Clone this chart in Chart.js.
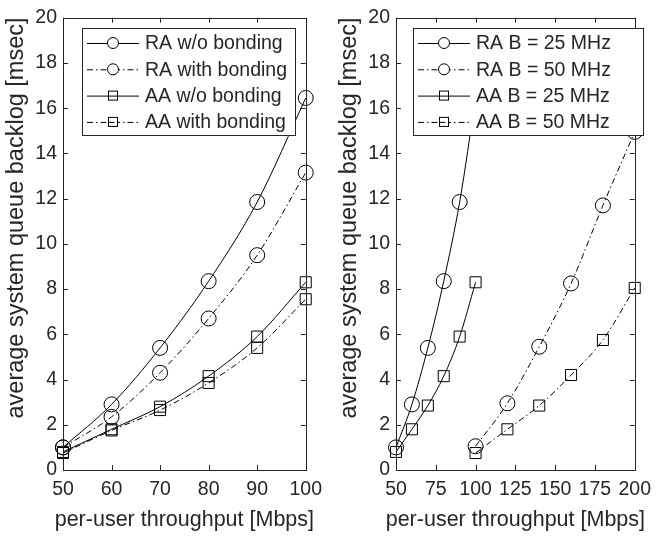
<!DOCTYPE html>
<html>
<head>
<meta charset="utf-8">
<script src="https://cdn.jsdelivr.net/npm/chart.js@4.4.1/dist/chart.umd.min.js"></script>
<style>
  html, body { margin: 0; padding: 0; background: #fff; }
  #wrap { position: relative; width: 659px; height: 538px; }
  canvas { position: absolute; top: 0; }
</style>
</head>
<body>
<div id="wrap">
  <canvas id="left" width="330" height="538" style="left:0"></canvas>
  <canvas id="right" width="329" height="538" style="left:330px"></canvas>
</div>
<script>
// left panel: 50..100 Mbps
const leftX = [50, 60, 70, 80, 90, 100];
const raNoBond = [1.0, 2.9, 5.4, 8.35, 11.85, 16.45];
const raBond = [1.0, 2.35, 4.3, 6.7, 9.5, 13.15];
const aaNoBond = [0.8, 1.8, 2.8, 4.15, 5.9, 8.3];
const aaBond = [0.75, 1.75, 2.65, 3.85, 5.4, 7.55];

// right panel: 25 MHz uses the same throughputs, 50 MHz goes to 200
const x25 = [50, 60, 70, 80, 90, 100];
const ra25 = [1.0, 2.9, 5.4, 8.35, 11.85, 16.45];
const aa25 = [0.8, 1.8, 2.85, 4.15, 5.9, 8.3];
const x50 = [100, 120, 140, 160, 180, 200];
const ra50 = [1.05, 2.95, 5.45, 8.25, 11.7, 14.95];
const aa50 = [0.75, 1.8, 2.85, 4.2, 5.75, 8.05];

const yTicks = [0, 2, 4, 6, 8, 10, 12, 14, 16, 18, 20];
const xTitle = 'per-user throughput [Mbps]';
const yTitle = 'average system queue backlog [msec]';

const INK = '#262626';
const FONT = 'Liberation Sans, Arial, sans-serif';
const DASHDOT = [6, 3, 1.5, 3];

const pts = (xs, ys) => xs.map((x, i) => ({x, y: ys[i]}));

function series(label, xs, ys, shape, dashed) {
  return {
    label,
    data: pts(xs, ys),
    borderColor: '#000',
    borderWidth: 1,
    borderDash: dashed ? DASHDOT : [],
    pointStyle: shape,
    pointRadius: shape === 'circle' ? 7.5 : 7.8,
    pointBorderWidth: 1,
    pointBorderColor: '#000',
    pointBackgroundColor: 'rgba(0,0,0,0)',
    cubicInterpolationMode: 'monotone',
    clip: false
  };
}

// inward ticks on all four sides plus the box
const boxTicks = {
  id: 'boxTicks',
  afterDatasetsDraw(chart) {
    const {ctx, chartArea: a, scales: {x, y}} = chart;
    ctx.save();
    ctx.strokeStyle = INK;
    ctx.lineWidth = 1;
    ctx.setLineDash([]);
    const seg = (x1, y1, x2, y2) => { ctx.beginPath(); ctx.moveTo(x1, y1); ctx.lineTo(x2, y2); ctx.stroke(); };
    x.ticks.forEach(t => {
      const px = Math.round(x.getPixelForValue(t.value)) + 0.5;
      seg(px, a.bottom, px, a.bottom - 5);
      seg(px, a.top, px, a.top + 5);
    });
    y.ticks.forEach(t => {
      const py = Math.round(y.getPixelForValue(t.value)) + 0.5;
      seg(a.left, py, a.left + 5, py);
      seg(a.right, py, a.right - 5, py);
    });
    ctx.strokeRect(Math.round(a.left) + 0.5, Math.round(a.top) + 0.5,
      Math.round(a.right - a.left), Math.round(a.bottom - a.top));
    ctx.restore();
  }
};

// axis titles, drawn by hand so they are not squeezed to the axis width
const axisTitles = {
  id: 'axisTitles',
  afterDraw(chart, args, o) {
    const {ctx, scales: {x}} = chart;
    ctx.save();
    ctx.fillStyle = INK;
    ctx.textAlign = 'center';
    ctx.textBaseline = 'alphabetic';
    ctx.font = '21.5px ' + FONT;
    ctx.fillText(xTitle, (x.left + x.right) / 2, o.xBase);
    ctx.font = '23.5px ' + FONT;
    ctx.translate(o.yBase, o.yMid);
    ctx.rotate(-Math.PI / 2);
    ctx.fillText(yTitle, 0, 0);
    ctx.restore();
  }
};

// matlab style legend box inside the axes
const boxLegend = {
  id: 'boxLegend',
  afterDraw(chart, args, o) {
    const {ctx} = chart;
    ctx.save();
    ctx.fillStyle = '#fff';
    ctx.fillRect(o.left, o.top, o.width, o.height);
    ctx.strokeStyle = INK;
    ctx.lineWidth = 1;
    ctx.strokeRect(o.left + 0.5, o.top + 0.5, o.width, o.height);
    ctx.font = '19.5px ' + FONT;
    ctx.textBaseline = 'middle';
    chart.data.datasets.forEach((ds, i) => {
      const cy = o.top + o.rowTop + i * o.rowStep;
      ctx.strokeStyle = '#000';
      ctx.setLineDash(ds.borderDash);
      ctx.beginPath();
      ctx.moveTo(o.left + 5, cy + 0.5);
      ctx.lineTo(o.left + 5 + o.lineLen, cy + 0.5);
      ctx.stroke();
      ctx.setLineDash([]);
      const mx = o.left + 5 + o.lineLen / 2;
      ctx.fillStyle = '#fff';
      ctx.beginPath();
      if (ds.pointStyle === 'circle') {
        ctx.arc(mx, cy, 5.5, 0, Math.PI * 2);
        ctx.fill();
        ctx.stroke();
      } else {
        ctx.fillRect(mx - 4.5, cy - 4.5, 9, 9);
        ctx.strokeRect(mx - 4.5, cy - 4.5, 9, 9);
        // the line shows through the square in the reference
        ctx.setLineDash(ds.borderDash);
        ctx.beginPath();
        ctx.moveTo(mx - 4.5, cy + 0.5);
        ctx.lineTo(mx + 4.5, cy + 0.5);
        ctx.stroke();
        ctx.setLineDash([]);
      }
      ctx.fillStyle = INK;
      ctx.fillText(ds.label, o.left + o.textX, cy + 1);
    });
    ctx.restore();
  }
};

function makeChart(id, datasets, xMax, xStep, yWidth, rightPad, legend) {
  return new Chart(document.getElementById(id), {
    type: 'line',
    data: {datasets},
    plugins: [boxTicks, axisTitles, boxLegend],
    options: {
      responsive: false,
      animation: false,
      layout: {padding: {top: 12, right: rightPad, left: 0, bottom: 0}},
      plugins: {
        legend: {display: false},
        tooltip: {enabled: false},
        axisTitles: {xBase: 526, yBase: yWidth - 40, yMid: 218},
        boxLegend: legend
      },
      scales: {
        x: {
          type: 'linear',
          min: 50,
          max: xMax,
          afterFit: s => { s.height = 68; },
          grid: {display: false, drawTicks: false},
          border: {display: false},
          ticks: {stepSize: xStep, padding: 8, color: INK, font: {family: FONT, size: 19.5}, maxRotation: 0}
        },
        y: {
          min: 0,
          max: 20,
          afterFit: s => { s.width = yWidth; },
          afterBuildTicks: s => { s.ticks = yTicks.map(v => ({value: v})); },
          grid: {display: false, drawTicks: false},
          border: {display: false},
          ticks: {padding: 6, color: INK, font: {family: FONT, size: 19.5}}
        }
      }
    }
  });
}

makeChart('left', [
  series('RA w/o bonding', leftX, raNoBond, 'circle', false),
  series('RA with bonding', leftX, raBond, 'circle', true),
  series('AA w/o bonding', leftX, aaNoBond, 'rect', false),
  series('AA with bonding', leftX, aaBond, 'rect', true)
], 100, 10, 63, 17, {left: 82, top: 28, width: 213, height: 107, rowTop: 15, rowStep: 26.3, lineLen: 52, textX: 63});

makeChart('right', [
  series('RA B = 25 MHz', x25, ra25, 'circle', false),
  series('RA B = 50 MHz', x50, ra50, 'circle', true),
  series('AA B = 25 MHz', x25, aa25, 'rect', false),
  series('AA B = 50 MHz', x50, aa50, 'rect', true)
], 200, 25, 66, 16, {left: 83, top: 28, width: 230, height: 107, rowTop: 15, rowStep: 26.3, lineLen: 52, textX: 63});
</script>
</body>
</html>
